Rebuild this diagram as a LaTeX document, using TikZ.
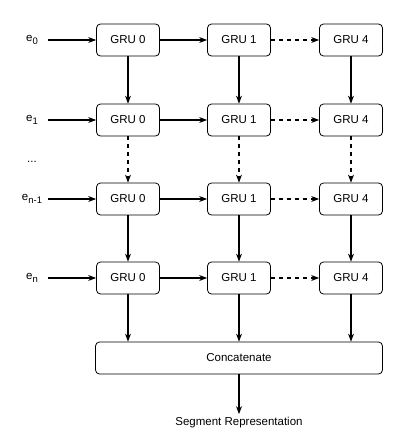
\documentclass[tikz,border=0pt]{standalone}
\usepackage{fontspec}
\setmainfont{Liberation Sans}
\usetikzlibrary{arrows.meta}

\newcommand{\elab}[1]{e\raisebox{-3.5pt}{\fontsize{9.5pt}{10pt}\selectfont #1}}

\tikzset{
	gru/.style={draw,rounded corners=4pt,minimum width=63pt,minimum height=32pt,inner sep=0pt,line width=0.8pt},
	flow/.style={->,line width=1.1pt},
	skip/.style={->,line width=1.1pt,dash pattern=on 4pt off 4pt}
}

\begin{document}
\begin{tikzpicture}[x=1pt,y=-1pt,>=Stealth,font=\fontsize{11.5pt}{13pt}\selectfont]
	\useasboundingbox (0,0) rectangle (415,447);
	
	% input labels
	\node (e0) at (32,40) {\elab{0}};
	\node (e1) at (32,120) {\elab{1}};
	\node (dots) at (32,162) {...};
	\node (em) at (32,199) {\elab{n-1}};
	\node (en) at (32,278) {\elab{n}};
	
	\coordinate (s0) at (48,40);
	\coordinate (s1) at (48,120);
	\coordinate (sm) at (48,199);
	\coordinate (sn) at (48,278);
	
	% GRU cells
	\node [gru] (g00) at (128,40) {GRU 0};
	\node [gru] (g01) at (239,40) {GRU 1};
	\node [gru] (g04) at (351,40) {GRU 4};
	
	\node [gru] (g10) at (128,120) {GRU 0};
	\node [gru] (g11) at (239,120) {GRU 1};
	\node [gru] (g14) at (351,120) {GRU 4};
	
	\node [gru] (gm0) at (128,199) {GRU 0};
	\node [gru] (gm1) at (239,199) {GRU 1};
	\node [gru] (gm4) at (351,199) {GRU 4};
	
	\node [gru] (gn0) at (128,278) {GRU 0};
	\node [gru] (gn1) at (239,278) {GRU 1};
	\node [gru] (gn4) at (351,278) {GRU 4};
	
	\node [gru,minimum width=287pt] (cat) at (239,358) {Concatenate};
	\node (seg) at (239,423) {Segment Representation};
	
	% inputs
	\draw [flow] (s0) -- (g00);
	\draw [flow] (s1) -- (g10);
	\draw [flow] (sm) -- (gm0);
	\draw [flow] (sn) -- (gn0);
	
	% along the layers
	\draw [flow] (g00) -- (g01);
	\draw [skip] (g01) -- (g04);
	\draw [flow] (g10) -- (g11);
	\draw [skip] (g11) -- (g14);
	\draw [flow] (gm0) -- (gm1);
	\draw [skip] (gm1) -- (gm4);
	\draw [flow] (gn0) -- (gn1);
	\draw [skip] (gn1) -- (gn4);
	
	% down the steps
	\draw [flow] (g00) -- (g10);
	\draw [flow] (g01) -- (g11);
	\draw [flow] (g04) -- (g14);
	\draw [skip] (g10) -- (gm0);
	\draw [skip] (g11) -- (gm1);
	\draw [skip] (g14) -- (gm4);
	\draw [flow] (gm0) -- (gn0);
	\draw [flow] (gm1) -- (gn1);
	\draw [flow] (gm4) -- (gn4);
	
	\draw [flow] (gn0) -- (gn0 |- cat.north);
	\draw [flow] (gn1) -- (gn1 |- cat.north);
	\draw [flow] (gn4) -- (gn4 |- cat.north);
	\draw [flow] (cat) -- (seg);
	
\end{tikzpicture}
\end{document}
